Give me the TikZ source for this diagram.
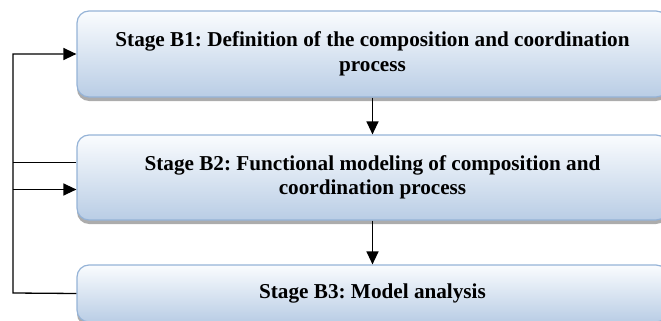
\documentclass[tikz,border=0pt]{standalone}
\usepackage{fontspec}
\setmainfont{Liberation Serif}
\frenchspacing
\usetikzlibrary{positioning}
\usetikzlibrary{arrows.meta}
\usetikzlibrary{shadows}
\definecolor{boxline}{HTML}{95B3D7}
\definecolor{boxtop}{HTML}{FAFCFE}
\definecolor{boxbottom}{HTML}{B9CDE5}
\tikzset{
  stagebox/.style={draw=boxline, line width=1.2pt, rounded corners=12pt,
    top color=boxtop, bottom color=boxbottom, minimum width=591pt,
    align=center, font=\fontsize{21.2}{24.5}\selectfont\bfseries,
    drop shadow={shadow xshift=0pt, shadow yshift=-4pt, fill=gray!65, opacity=1}},
  flow/.style={line width=1.3pt, -{Triangle[length=13pt,width=12pt]}},
  link/.style={line width=1.3pt}
}

\begin{document}
\begin{tikzpicture}[x=1pt,y=-1pt]
            \useasboundingbox (0,0) rectangle (661,321);
            % Stages
            \node[stagebox, minimum height=86] (b1) at (372.5,54) {Stage B1: Definition of the composition and coordination\\process};
            \node[stagebox, minimum height=85] (b2) at (372.5,177.5) {Stage B2: Functional modeling of composition and\\coordination process};
            \node[stagebox, minimum height=57] (b3) at (372.5,293.5) {Stage B3: Model analysis};
            % Down arrows
            \draw[flow] (b1.south) -- (b2.north);
            \draw[flow] (b2.south) -- (b3.north);
            % Feedback loop on the left
            \coordinate (back) at (13,293);
            \draw[flow] (b3.west) -- (back) |- (b1.west);
            \draw[link] ([yshift=15]b2.west) -- ([yshift=15]b2.west -| back);
            \draw[flow] ([yshift=-12]b2.west -| back) -- ([yshift=-12]b2.west);
        \end{tikzpicture}
\end{document}
